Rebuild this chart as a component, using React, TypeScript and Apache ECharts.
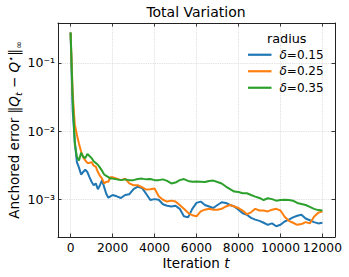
import React, { useEffect, useRef } from "react";
import * as echarts from "echarts";

const iterations = [
  0, 100, 200, 300, 400, 500, 600, 700, 800, 900, 1000, 1100, 1200, 1300, 1400, 1500, 1600, 1700, 1800, 1900, 2000,
  2200, 2400, 2600, 2800, 3000, 3200, 3400, 3600, 3800, 4000,
  4200, 4400, 4600, 4800, 5000, 5200, 5400, 5600, 5800, 6000,
  6200, 6400, 6600, 6800, 7000, 7200, 7400, 7600, 7800, 8000,
  8200, 8400, 8600, 8800, 9000, 9200, 9400, 9600, 9800, 10000,
  10200, 10400, 10600, 10800, 11000, 11200, 11400, 11600, 11800, 12000,
];

const radius015 = [
  0.28, 0.02, 0.007, 0.0035, 0.0029, 0.0023, 0.0025, 0.0027, 0.0025, 0.0021, 0.0018, 0.0016, 0.0017, 0.0014, 0.0016, 0.0019, 0.0015, 0.0012, 0.00105, 0.0011, 0.00115,
  0.0011, 0.00104, 0.00115, 0.00118, 0.0014, 0.00152, 0.00146, 0.0012, 0.00097, 0.001,
  0.00098, 0.00084, 0.0008, 0.00078, 0.0008, 0.00072, 0.00056, 0.00054, 0.00072, 0.00088,
  0.00092, 0.00082, 0.00078, 0.00074, 0.00082, 0.0009, 0.00088, 0.00082, 0.00078, 0.0007,
  0.00062, 0.00059, 0.00053, 0.0005, 0.00048, 0.00045, 0.00042, 0.00044, 0.0004, 0.00042,
  0.00047, 0.0005, 0.00054, 0.00057, 0.00059, 0.00052, 0.00049, 0.00046, 0.00044, 0.00045,
];

const radius025 = [
  0.28, 0.035, 0.0125, 0.0088, 0.0065, 0.005, 0.0041, 0.0037, 0.0034, 0.0034, 0.0035, 0.0031, 0.003, 0.0025, 0.0022, 0.002, 0.0017, 0.0018, 0.0018, 0.0021, 0.0021,
  0.002, 0.0019, 0.002, 0.0017, 0.0016, 0.0016, 0.0015, 0.00138, 0.0014, 0.00143,
  0.0011, 0.00098, 0.00092, 0.00095, 0.00092, 0.00082, 0.00072, 0.00063, 0.00058, 0.00056,
  0.00066, 0.0007, 0.00072, 0.0007, 0.0007, 0.00072, 0.00078, 0.00082, 0.00078, 0.00074,
  0.00068, 0.0006, 0.00064, 0.00072, 0.00068, 0.00068, 0.00066, 0.0007, 0.00072, 0.00068,
  0.00055, 0.00048, 0.00045, 0.00042, 0.00043, 0.00046, 0.00044, 0.00055, 0.00063, 0.00066,
];

const radius035 = [
  0.28, 0.03, 0.0065, 0.0042, 0.0037, 0.0048, 0.0042, 0.004, 0.0046, 0.0043, 0.004, 0.0036, 0.0034, 0.0032, 0.0029, 0.0026, 0.0023, 0.0022, 0.0021, 0.002, 0.002,
  0.00195, 0.0019, 0.00195, 0.0019, 0.0019, 0.00198, 0.002, 0.00195, 0.00197, 0.0019,
  0.0019, 0.00195, 0.00185, 0.0017, 0.00175, 0.0019, 0.00197, 0.00185, 0.0018, 0.00182,
  0.0018, 0.00178, 0.00185, 0.00187, 0.00178, 0.0017, 0.00153, 0.0014, 0.00129, 0.00127,
  0.00122, 0.00122, 0.00115, 0.00109, 0.00104, 0.00097, 0.00103, 0.001, 0.00095, 0.00097,
  0.00098, 0.00097, 0.00095, 0.00088, 0.00085, 0.00082, 0.00077, 0.00072, 0.00069, 0.00068,
];

const seriesNames = ["0.15", "0.25", "0.35"];
const seriesValues = [radius015, radius025, radius035];
const seriesColors = ["#1f77b4", "#ff7f0e", "#2ca02c"];

const xTickLabels = ["0", "2000", "4000", "6000", "8000", "10000", "12000"];

const FONT = "DejaVu Sans";

const SUP: Record<string, string> = {
  "-": "\u207B", "0": "\u2070", "1": "\u00B9", "2": "\u00B2", "3": "\u00B3",
  "4": "\u2074", "5": "\u2075", "6": "\u2076", "7": "\u2077", "8": "\u2078", "9": "\u2079",
};

function logLabel(v: number): string {
  const e = Math.log10(v);
  const r = Math.round(e);
  if (Math.abs(e - r) > 1e-6) return "";
  return "10" + String(r).split("").map((c) => SUP[c] || c).join("");
}

function xLabel(v: number): string {
  const s = String(Math.round(v));
  return xTickLabels.indexOf(s) >= 0 ? s : "";
}

export default function App() {
  const ref = useRef<HTMLDivElement>(null);
  useEffect(() => {
    if (!ref.current) return;
    const chart = echarts.init(ref.current, undefined, { renderer: "svg" });
    const xMin = -600;
    const xMax = 12600;
    const yMin = 2.78e-4;
    const yMax = 0.385;
    const frame = { show: true, onZero: false, lineStyle: { color: "#222", width: 1 } };
    const tick = { show: true, inside: true, length: 3.5, lineStyle: { color: "#222", width: 0.9 } };
    const grid = { show: true, lineStyle: { color: "#d9d9d9", type: "dotted", width: 0.9 } };
    chart.setOption({
      animation: false,
      backgroundColor: "#fff",
      textStyle: { fontFamily: FONT },
      grid: { left: 58, right: 14, top: 23, bottom: 40, containLabel: false, outerBoundsMode: "none" },
      xAxis: [
        {
          type: "value", min: xMin, max: xMax, splitNumber: 6, position: "bottom",
          axisLine: frame, axisTick: tick, splitLine: grid,
          axisLabel: { formatter: xLabel, color: "#000", fontSize: 12.3, fontFamily: FONT, margin: 5 },
        },
        {
          type: "value", min: xMin, max: xMax, splitNumber: 6, position: "top",
          axisLine: frame, axisTick: tick, splitLine: { show: false }, axisLabel: { show: false },
        },
      ],
      yAxis: [
        {
          type: "log", logBase: 10, min: yMin, max: yMax, position: "left",
          axisLine: frame, axisTick: tick, splitLine: grid,
          axisLabel: { formatter: logLabel, color: "#000", fontSize: 12.5, fontFamily: FONT, margin: 3 },
        },
        {
          type: "log", logBase: 10, min: yMin, max: yMax, position: "right",
          axisLine: frame, axisTick: tick, splitLine: { show: false }, axisLabel: { show: false },
        },
      ],
      legend: {
        orient: "vertical", left: 248, top: 46.5, padding: 0, itemGap: 0,
        itemWidth: 23.5, itemHeight: 2.2, icon: "rect",
        data: seriesNames,
        formatter: (n: string) => "{i|\u03B4}{t|=" + n + "}",
        textStyle: {
          color: "#000", fontSize: 12, fontFamily: FONT, lineHeight: 16.5, padding: [0, 0, 0, 3],
          rich: {
            i: { fontStyle: "italic", fontSize: 12, fontFamily: FONT, color: "#000", lineHeight: 16.5 },
            t: { fontSize: 12, fontFamily: FONT, color: "#000", lineHeight: 16.5 },
          },
        },
      },
      graphic: [
        {
          type: "text", x: 196, y: 12,
          style: { text: "Total Variation", fontSize: 14, fontFamily: FONT, fill: "#000", align: "center", verticalAlign: "middle" },
        },
        {
          type: "text", x: 286.7, y: 38.5,
          style: { text: "radius", fontSize: 12.8, fontFamily: FONT, fill: "#000", align: "center", verticalAlign: "middle" },
        },
        {
          type: "text", x: 196, y: 263,
          style: {
            text: "Iteration {i|t}", fontSize: 13.5, fontFamily: FONT, fill: "#000", align: "center", verticalAlign: "middle",
            rich: { i: { fontStyle: "italic", fontSize: 13.5, fontFamily: FONT, fill: "#000" } },
          },
        },
        {
          type: "text", x: 14, y: 130, rotation: Math.PI / 2,
          style: {
            text: "Anchored error \u2016{i|Q}{sub|t} \u2212 {i|Q}{sup|\u22C6}\u2016{sub|\u221E}",
            fontSize: 13.5, fontFamily: FONT, fill: "#000", align: "center", verticalAlign: "middle", lineHeight: 18,
            rich: {
              i: { fontStyle: "italic", fontSize: 13.5, fontFamily: FONT, fill: "#000", lineHeight: 18 },
              sub: { fontStyle: "italic", fontSize: 9.5, fontFamily: FONT, fill: "#000", verticalAlign: "bottom", lineHeight: 10 },
              sup: { fontSize: 9.5, fontFamily: FONT, fill: "#000", verticalAlign: "top", lineHeight: 10 },
            },
          },
        },
      ],
      series: seriesValues.map((vals, k) => ({
        name: seriesNames[k],
        type: "line",
        xAxisIndex: 0,
        yAxisIndex: 0,
        showSymbol: false,
        symbol: "none",
        color: seriesColors[k],
        lineStyle: { color: seriesColors[k], width: 2 },
        data: iterations.map((x, i) => [x, vals[i]]),
        z: 2 + k,
      })),
    });
    return () => chart.dispose();
  }, []);
  return <div ref={ref} style={{ position: "absolute", left: 0, top: 0, width: 349, height: 277 }} />;
}
